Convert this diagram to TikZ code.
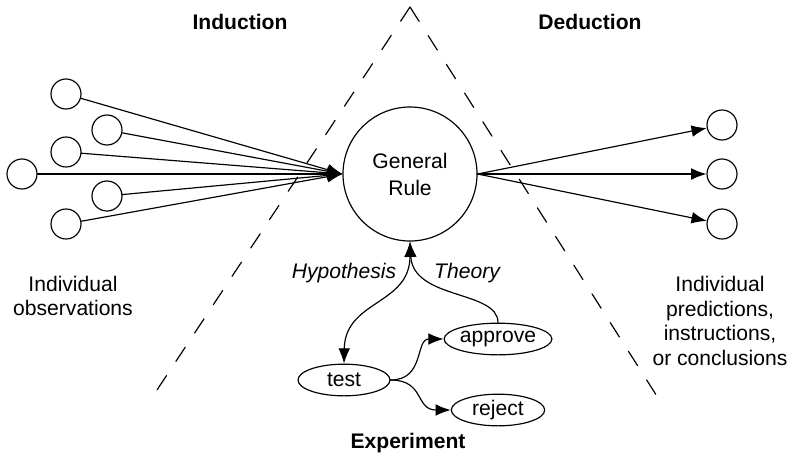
\documentclass[tikz,border=0pt]{standalone}
\usepackage{fontspec}
\setmainfont{Liberation Sans}
\usetikzlibrary{arrows.meta,positioning,shapes.geometric}

\begin{document}
\begin{tikzpicture}[x=0.03cm,y=-0.03cm,line cap=round,
  >={Latex[length=13pt,width=10pt]},
  txt/.style={font=\fontsize{18}{21}\selectfont},
  obs/.style={circle,draw,line width=1pt,minimum size=0.9cm,inner sep=0pt},
  oval/.style={ellipse,draw,line width=1pt,minimum width=2.8cm,minimum height=0.95cm,
               inner sep=0pt,txt},
  link/.style={line width=1pt},
  dashline/.style={line width=1pt,dash pattern=on 14.5pt off 14.5pt}]
  \useasboundingbox (0,0) rectangle (794,462);
  % triangulo punteado
  \coordinate (apex) at (410,7);
  \coordinate (bl) at (153,396);
  \coordinate (br) at (660,401);
  \draw[dashline] (apex) -- (bl);
  \draw[dashline] (apex) -- (br);
  % regla general
  \node[circle,draw,line width=1pt,minimum size=4.02cm,align=center,
        font=\fontsize{18}{23}\selectfont] (rule) at (410,174) {General\\Rule};
  % observaciones
  \node[obs] (obs1) at (66,94) {};
  \node[obs] (obs2) at (107,130) {};
  \node[obs] (obs3) at (66,152) {};
  \node[obs] (obs4) at (22,174) {};
  \node[obs] (obs5) at (107,196) {};
  \node[obs] (obs6) at (66,224) {};
  \foreach \o in {obs1,obs2,obs3,obs4,obs5,obs6}{
    \draw[link,->] (\o) -- (rule.west);
  }
  % predicciones
  \node[obs] (pred1) at (722,125) {};
  \node[obs] (pred2) at (722,174) {};
  \node[obs] (pred3) at (722,224) {};
  \foreach \p in {pred1,pred2,pred3}{
    \draw[link,->] (rule.east) -- (\p);
  }
  % experimento
  \node[oval,minimum width=2.76cm] (test) at (344,380) {test};
  \node[oval] (approve) at (498,339) {approve};
  \node[oval] (reject) at (498,410) {reject};
  \draw[link,<->] (rule.south) .. controls (410,305) and (345,300) .. (test.north);
  \draw[link,->] (approve.north) .. controls (498,290) and (413,300) .. (rule.south);
  \draw[link,->] (test.east) .. controls (425,380) and (415,339) .. (approve.west);
  \draw[link,->] (test.east) .. controls (425,380) and (415,410) .. (reject.west);
  % etiquetas
  \node[txt,font=\fontsize{18}{21}\selectfont\itshape] (hyplabel) at (344,273) {Hypothesis};
  \node[txt,font=\fontsize{18}{21}\selectfont\itshape] (theolabel) at (467,273) {Theory};
  \node[txt,font=\fontsize{18}{21}\selectfont\bfseries] (induction) at (240,22) {Induction};
  \node[txt,font=\fontsize{18}{21}\selectfont\bfseries] (deduction) at (590,22) {Deduction};
  \node[txt,font=\fontsize{18}{21}\selectfont\bfseries] (experiment) at (408,443) {Experiment};
  \node[align=center,font=\fontsize{18}{21}\selectfont] (obstext) at (73,296)
    {Individual\\observations};
  \node[align=center,font=\fontsize{18}{21}\selectfont] (predtext) at (720,321)
    {Individual\\predictions,\\instructions,\\or conclusions};
\end{tikzpicture}
\end{document}
